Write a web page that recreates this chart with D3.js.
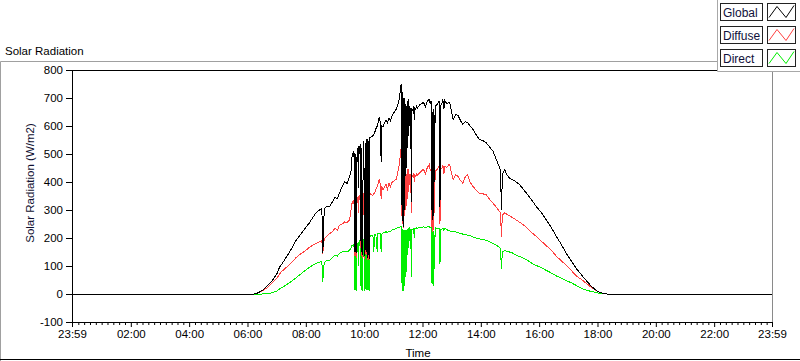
<!DOCTYPE html>
<html><head><meta charset="utf-8">
<script src="https://cdn.jsdelivr.net/npm/d3@7"></script>
<style>
html,body{margin:0;padding:0;background:#fff;}
svg{display:block;font-family:"Liberation Sans",Arial,sans-serif;}
</style></head><body>
<svg id="c" width="800" height="361"></svg>
<script>
// ---------------- DATA ----------------
const times = [
 "00:00","06:10","06:14","06:20","06:30","06:40","06:45","06:50","07:00","07:06","07:10","07:20","07:30","07:40","07:50","08:00","08:07","08:15","08:22","08:28","08:33","08:35","08:36","08:38","08:42","08:49","08:55","09:00","09:05","09:09","09:15","09:20","09:25","09:30","09:33","09:34",
 "09:36","09:37","09:38","09:39","09:40","09:41","09:42","09:43","09:44","09:45","09:46","09:47","09:48","09:49","09:50","09:51","09:52","09:53","09:54","09:55","09:56","09:57","09:58","09:59","10:00","10:01","10:02","10:03","10:04","10:05","10:06","10:07","10:08","10:09","10:10","10:11","10:12",
 "10:14","10:18","10:20","10:21","10:24","10:27","10:28","10:31","10:33","10:35","10:36","10:39","10:42","10:45","10:48","10:51","10:54","10:57","11:00","11:03","11:06","11:09","11:12","11:14","11:16","11:17",
 "11:18","11:19","11:20","11:21","11:22","11:23","11:24","11:25","11:26","11:27","11:28","11:29","11:30","11:31","11:32","11:33","11:34","11:36","11:37","11:38","11:40","11:42","11:43","11:44","11:46","11:48","11:50",
 "11:54","11:58","12:02","12:06","12:10","12:14","12:16","12:18","12:19","12:20","12:21","12:22","12:23","12:24","12:25","12:26","12:30","12:34","12:36","12:37","12:40","12:42","12:44","12:46","12:50","12:54",
 "12:56","13:00","13:03","13:08","13:13","13:18","13:23","13:28","13:33","13:38","13:44","13:50","13:57","14:04","14:11","14:18","14:25","14:32","14:39","14:41","14:42","14:43","14:45","14:49","14:54","14:59","15:06","15:13","15:20","15:27","15:34","15:47","15:54","16:05","16:15","16:22","16:36","16:46","16:56","17:06","17:17","17:30","17:37","17:47","17:58","18:06","18:12","18:20","23:59"
];
const globalRad = [
 0,0,0,3,12,28,36,46,70,96,105,132,160,192,215,238,253,275,292,300,305,145,210,305,312,312,330,345,340,360,385,400,395,420,440,480,
 495,505,490,510,470,150,160,500,145,480,515,520,380,525,530,500,535,240,150,520,140,160,530,545,400,135,540,180,150,550,555,130,300,140,545,125,560,
 560,565,570,572,590,600,605,630,615,470,600,598,612,620,612,628,618,635,645,652,660,675,695,720,750,725,
 260,720,250,240,700,300,680,640,420,670,640,690,520,695,650,600,670,640,330,660,655,670,620,665,660,670,665,
 675,680,684,670,690,695,680,690,300,650,264,660,280,640,400,670,677,690,312,670,680,695,660,690,680,684,
 684,650,623,641,638,620,606,615,612,600,588,570,552,548,540,525,510,480,450,440,300,350,430,444,425,414,408,400,390,375,360,330,312,290,264,246,204,176,144,118,90,62,48,28,12,5,2,0,0
];
const diffuseRad = [
 0,0,0,3,10,22,30,38,55,72,80,95,112,130,144,156,166,175,181,186,190,144,170,196,205,216,222,235,228,245,250,258,255,264,300,324,
 325,330,320,335,310,135,140,330,130,320,340,345,290,348,350,335,352,200,135,345,130,140,350,360,300,125,355,160,140,360,362,120,240,125,355,120,360,
 355,352,358,360,372,385,390,408,395,340,385,372,382,392,375,396,382,398,402,406,410,432,460,490,520,485,
 250,470,245,235,460,280,440,420,300,430,415,445,340,448,420,390,430,410,290,425,420,430,400,425,420,430,425,
 432,440,445,430,452,462,440,450,240,420,220,425,230,415,290,440,444,455,250,445,450,460,430,455,452,462,
 462,430,408,426,420,405,396,418,426,400,384,372,360,358,354,338,324,310,294,290,204,240,282,290,284,280,272,264,256,248,238,216,206,188,172,162,134,118,102,84,64,48,38,24,12,5,2,0,0
];
const directRad = [
 0,0,0,0,0,1,2,4,10,18,22,33,45,58,72,86,95,104,110,114,116,42,80,112,118,120,130,140,135,145,150,152,150,156,165,174,
 172,176,170,178,150,15,20,172,12,160,180,182,100,185,188,170,190,45,15,184,10,20,188,195,120,12,192,30,15,196,198,15,60,14,198,12,205,
 208,210,150,212,214,150,215,218,216,150,214,218,220,222,220,224,222,228,230,232,235,236,238,240,242,236,
 12,232,15,10,228,30,230,225,60,228,220,232,140,235,225,190,232,226,60,230,232,235,200,233,234,236,235,
 237,238,240,236,240,240,236,238,40,220,36,225,30,210,90,236,234,236,108,230,232,235,228,234,230,226,
 225,224,223,222,220,216,214,212,210,208,204,200,197,194,192,186,180,174,165,160,90,120,150,156,152,150,146,138,134,128,122,108,102,94,84,78,64,56,48,40,30,18,14,9,5,2,1,0,0
];
const seriesNames = ["Global","Diffuse","Direct"];
const seriesColors = ["#000000","#ff4040","#00ee00"];
const yTicks = [-100,0,100,200,300,400,500,600,700,800];
const xTickMinutes = [-1,120,240,360,480,600,720,840,960,1080,1200,1320,1439];
const xTickLabels = ["23:59","02:00","04:00","06:00","08:00","10:00","12:00","14:00","16:00","18:00","20:00","22:00","23:59"];

// ---------------- CHART ----------------
const svg = d3.select("#c");
const toMin = s => { const p = s.split(":").map(Number); return p[0]*60 + p[1]; };
const x = d3.scaleLinear().domain([-1,1439]).range([72,772]);
const y = d3.scaleLinear().domain([-100,800]).range([322,70]);
const FS = "11.5px";

// outer frame
svg.append("path").attr("d","M0.5,361V61.5H717").attr("fill","none").attr("stroke","#a0a0a0");
svg.append("line").attr("x1",0).attr("x2",800).attr("y1",359.5).attr("y2",359.5).attr("stroke","#000");
svg.append("text").attr("x",5).attr("y",55).attr("font-size",FS).attr("fill","#000").text("Solar Radiation");

// plot frame
svg.append("line").attr("x1",72).attr("x2",773).attr("y1",70.5).attr("y2",70.5).attr("stroke","#000");
svg.append("line").attr("x1",772.5).attr("x2",772.5).attr("y1",70).attr("y2",323).attr("stroke","#8a8a8a");

// series
const idx = d3.range(times.length);
const tm = times.map(toMin);
const data = [globalRad, diffuseRad, directRad];
const line = vals => d3.line().x(i => x(tm[i])).y(i => y(vals[i]))(idx);
[2,1,0].forEach(k => {
  svg.append("path").attr("d", line(data[k])).attr("fill","none")
    .attr("stroke", seriesColors[k]).attr("stroke-width",1)
    .attr("shape-rendering","crispEdges").attr("stroke-linejoin","miter");
});

// y axis
const gy = svg.append("g").attr("transform","translate(72,0)")
  .call(d3.axisLeft(y).tickValues(yTicks).tickSize(6).tickSizeOuter(0).tickPadding(3).tickFormat(d => String(d)));
gy.select(".domain").attr("stroke","#000");
gy.selectAll("text").attr("font-size",FS).attr("font-family","Liberation Sans, Arial, sans-serif").attr("fill","#000");

// x axis minor
const minor = d3.range(12,1439,12).filter(m => m % 120 !== 0);
svg.append("g").attr("transform","translate(0,322)")
  .call(d3.axisBottom(x).tickValues(minor).tickSize(3).tickFormat(""))
  .call(g => g.select(".domain").remove());
const gx = svg.append("g").attr("transform","translate(0,322)")
  .call(d3.axisBottom(x).tickValues(xTickMinutes).tickSize(5).tickSizeOuter(0)
    .tickFormat((d,i) => xTickLabels[i]));
gx.select(".domain").attr("stroke","#000");
gx.selectAll("text").attr("font-size",FS).attr("font-family","Liberation Sans, Arial, sans-serif")
  .attr("fill","#000").attr("y",16).attr("dy",0);

// axis titles
svg.append("text").attr("transform","translate(34,183) rotate(-90)").attr("text-anchor","middle")
  .attr("font-size",FS).attr("fill","#101030").text("Solar Radiation (W/m2)");
svg.append("text").attr("x",418).attr("y",357).attr("text-anchor","middle")
  .attr("font-size",FS).attr("fill","#000").text("Time");

// legend
const lg = svg.append("g");
lg.append("path").attr("d","M717.5,0V71.5H800").attr("fill","none").attr("stroke","#a8a8a8");
lg.append("rect").attr("x",718).attr("y",0).attr("width",82).attr("height",71).attr("fill","#fff");
const rowTop = [3.5,26.5,49.5];
seriesNames.forEach((n,i) => {
  const ty = rowTop[i];
  lg.append("rect").attr("x",720.5).attr("y",ty).attr("width",42).attr("height",17)
    .attr("fill","#fff").attr("stroke","#222");
  lg.append("text").attr("x",723).attr("y",ty+13).attr("font-size","12px").attr("fill","#10103a").text(n);
  lg.append("rect").attr("x",767.5).attr("y",ty).attr("width",28).attr("height",17)
    .attr("fill","#fff").attr("stroke","#222");
  lg.append("path").attr("d",`M769,${ty+14}L777,${ty+3}L786,${ty+14}L794,${ty+2}`)
    .attr("fill","none").attr("stroke",seriesColors[i]).attr("stroke-width",1);
});
</script>
</body></html>
